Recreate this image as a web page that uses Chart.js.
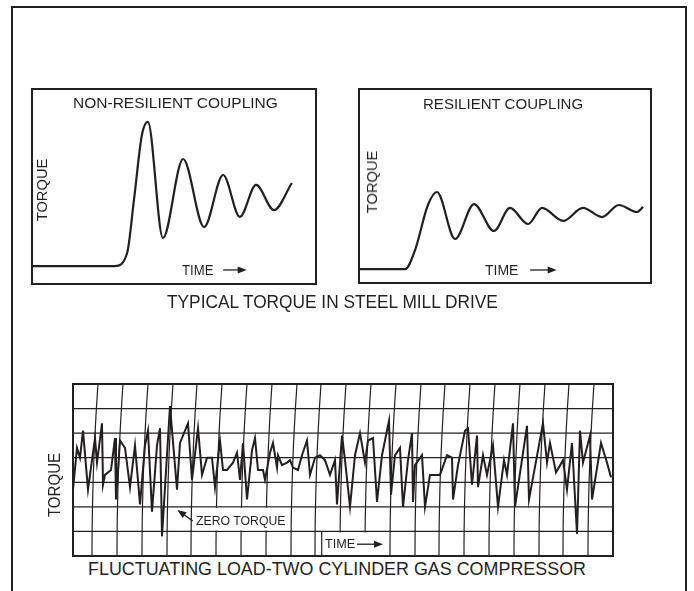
<!DOCTYPE html>
<html>
<head>
<meta charset="utf-8">
<title>Torque charts</title>
<script src="https://cdn.jsdelivr.net/npm/chart.js@4.4.1/dist/chart.umd.min.js"></script>
<style>
    html, body { margin: 0; padding: 0; background: #fff; }
    body {
        width: 694px; height: 591px; position: relative; overflow: hidden;
        font-family: "Liberation Sans", Arial, sans-serif; color: #231f20;
    }
    .frame { position: absolute; left: 11px; top: 6px; width: 672px; height: 640px; border: 2px solid #231f20; }
    .plot { position: absolute; }
    .lbl { position: absolute; white-space: nowrap; line-height: 1; transform: translateY(-50%); transform-origin: 0 50%; }
    .rot { transform: translate(-50%, -50%) rotate(-90deg); transform-origin: 50% 50%; }
</style>
</head>
<body>
<div class="frame"></div>

<div class="plot" style="left:31px;top:88px;width:286px;height:197px"><canvas id="nonResChart"></canvas></div>
<div class="plot" style="left:358px;top:88px;width:294px;height:196px"><canvas id="resChart"></canvas></div>
<div class="plot" style="left:72px;top:383px;width:542px;height:174px"><canvas id="compChart"></canvas></div>

<div class="lbl" data-w="205" style="left:73px;top:103px;font-size:14px">NON-RESILIENT COUPLING</div>
<div class="lbl" data-w="160" style="left:423px;top:104px;font-size:14px">RESILIENT COUPLING</div>
<div class="lbl rot" data-w="63" style="left:42px;top:190px;font-size:14px">TORQUE</div>
<div class="lbl rot" data-w="63" style="left:372px;top:182px;font-size:14px">TORQUE</div>
<div class="lbl" data-w="31" style="left:182px;top:270px;font-size:14px">TIME</div>
<div class="lbl" data-w="33" style="left:485px;top:270px;font-size:14px">TIME</div>
<div class="lbl" data-w="331" style="left:167px;top:303px;font-size:17.5px">TYPICAL TORQUE IN STEEL MILL DRIVE</div>
<div class="lbl rot" data-w="64" style="left:55px;top:485px;font-size:16px">TORQUE</div>
<div class="lbl" data-w="90" style="left:196px;top:521px;font-size:13.5px">ZERO TORQUE</div>
<div class="lbl" data-w="30" style="left:325px;top:544px;font-size:13.5px">TIME</div>
<div class="lbl" data-w="498" style="left:88px;top:570px;font-size:17.5px">FLUCTUATING LOAD-TWO CYLINDER GAS COMPRESSOR</div>

<script>
// data: time and torque in arbitrary units
const nonResTime = [0, 29.2, 33.5, 35.9, 38.7, 40.8, 46.1, 53.2, 60.6, 67.3, 73.2, 78.9, 85.2, 91.5];
const nonResTorque = [9.2, 9.2, 15.9, 43.1, 76.4, 83.1, 23.6, 64.1, 29.2, 55.9, 34.4, 50.8, 37.9, 51.8];

const resTime = [0, 15.8, 19.2, 23.6, 26.7, 32.9, 39.4, 46.2, 51.7, 57.9, 62.7, 69.9, 76.7, 83.2, 89.0, 95.2, 97.3];
const resTorque = [7.2, 7.2, 17.0, 40.2, 46.9, 22.7, 40.7, 26.8, 38.7, 30.4, 38.7, 32.0, 38.7, 34.0, 40.2, 36.6, 39.2];

const compTime = [
    0.0, 0.4, 0.7, 1.0, 1.5, 2.2, 2.4, 2.9, 3.0, 3.2, 3.8, 4.2, 4.3, 4.7, 5.2, 5.7, 6.2, 6.7, 7.2, 7.5,
    7.9, 8.4, 8.7, 8.9, 9.7, 10.4, 10.7, 11.5, 11.9, 12.5, 12.9, 13.4,
    13.9, 14.2, 14.7, 15.0, 15.4, 16.0, 16.4, 16.7, 17.0, 17.4, 17.9, 18.2, 18.5, 19.0, 19.2, 19.7, 20.0,
    20.4, 20.5, 20.9, 21.4, 21.7, 22.0, 22.5, 22.9, 23.4, 23.7, 24.2, 24.7, 25.2, 25.7, 26.2, 26.4,
    26.9, 27.2, 27.7, 28.2, 28.7, 29.2, 29.5, 30.0, 30.4, 30.9, 31.6, 31.8, 32.2, 32.7, 33.0, 33.5, 33.9,
    34.0, 34.2, 34.9, 35.2, 35.7, 36.7, 37.4, 37.9, 38.0, 38.5, 39.2, 39.5, 39.9,
    40.4, 40.5, 41.0, 41.4, 42.0, 42.5, 43.1, 43.4, 44.0, 44.2, 45.4, 45.6, 47.0, 47.4, 47.7, 48.3, 49.0,
    49.4, 49.9, 50.4, 50.7, 51.0, 51.7, 51.9, 52.8, 53.4, 53.8
];
const compTorque = [
    0.7, 2.4, 2.0, 3.1, 0.7, 2.8, 1.8, 3.4, 0.9, 1.3, 1.5, 2.8, 0.3, 2.7, 2.4, 0.8, 2.5, 0.1, 2.5, 3.1,
    -0.2, 2.5, 3.2, -1.2, 4.1, 0.7, 2.6, 3.4, 1.1, 3.2, 1.3, 2.0,
    2.0, 0.8, 2.7, 1.5, 1.5, 1.8, 2.2, 1.1, 2.6, 0.3, 2.3, 2.8, 1.5, 1.5, 1.1, 2.2, 2.6,
    1.6, 2.1, 1.7, 1.8, 1.9, 1.6, 1.5, 2.1, 2.7, 1.3, 2.0, 2.1, 1.9, 1.3, 1.9, 0.1,
    2.9, 1.9, 0.0, 2.1, 3.0, 1.8, 2.7, 2.8, 0.2, 2.1, 3.5, 0.5, 2.1, 2.4, 0.0, 1.9, 3.0,
    0.2, 1.7, 2.1, 0.0, 1.3, 1.3, 2.1, 2.0, 0.3, 1.7, 3.1, 3.2, 0.9,
    2.9, 0.8, 2.1, 1.3, 2.5, 0.0, 1.9, 1.3, 3.4, 0.0, 3.3, 0.3, 3.4, 1.8, 2.6, 1.4, 1.9,
    0.7, 2.6, -1.1, 3.1, 1.8, 2.9, 0.3, 2.6, 1.8, 1.2
];

// recorder chart paper: torque divisions and the time arcs (time at the top edge)
const torqueGrid = [-2, -1, 0, 1, 2, 3, 4, 5];
const chartLines = [2.5, 5.0, 7.5, 10.0, 12.4, 14.9, 17.4, 19.9, 22.4, 24.8, 27.3, 29.8, 32.3,
    34.8, 37.2, 39.7, 42.2, 44.7, 47.2, 49.6, 52.1];

const ink = "#231f20";

function points(xs, ys) {
    return xs.map(function (x, i) { return { x: x, y: ys[i] }; });
}

const framePlugin = {
    id: "frame",
    afterDraw(chart) {
        const a = chart.chartArea, ctx = chart.ctx;
        ctx.save();
        ctx.strokeStyle = ink;
        ctx.lineWidth = 2;
        ctx.strokeRect(a.left, a.top, a.right - a.left, a.bottom - a.top);
        ctx.restore();
    }
};

function drawArrow(chart, x0, y0, x1, y1) {
    const ctx = chart.ctx, sx = chart.scales.x, sy = chart.scales.y;
    const ax = sx.getPixelForValue(x0), ay = sy.getPixelForValue(y0);
    const bx = sx.getPixelForValue(x1), by = sy.getPixelForValue(y1);
    const ang = Math.atan2(by - ay, bx - ax), len = 9, half = 3.5;
    ctx.save();
    ctx.strokeStyle = ink;
    ctx.fillStyle = ink;
    ctx.lineWidth = 1.3;
    ctx.beginPath();
    ctx.moveTo(ax, ay);
    ctx.lineTo(bx - Math.cos(ang) * len * 0.8, by - Math.sin(ang) * len * 0.8);
    ctx.stroke();
    ctx.beginPath();
    ctx.moveTo(bx, by);
    ctx.lineTo(bx - Math.cos(ang) * len - Math.sin(ang) * half, by - Math.sin(ang) * len + Math.cos(ang) * half);
    ctx.lineTo(bx - Math.cos(ang) * len + Math.sin(ang) * half, by - Math.sin(ang) * len - Math.cos(ang) * half);
    ctx.closePath();
    ctx.fill();
    ctx.restore();
}

function arrowPlugin(list) {
    return {
        id: "arrows",
        afterDraw(chart) {
            list.forEach(function (a) { drawArrow(chart, a[0], a[1], a[2], a[3]); });
        }
    };
}

// curved time lines of the strip chart, the two label panels
const penSwing = 6;
function arcX(chart, t, py) {
    const a = chart.chartArea;
    const s = (py - a.top) / (a.bottom - a.top);
    return chart.scales.x.getPixelForValue(t) - penSwing * (1 - (1 - s) * (1 - s));
}

const recorderGrid = {
    id: "recorderGrid",
    beforeDatasetsDraw(chart) {
        const ctx = chart.ctx, a = chart.chartArea, sy = chart.scales.y, sx = chart.scales.x;
        ctx.save();
        ctx.strokeStyle = ink;
        ctx.lineWidth = 1.2;
        torqueGrid.forEach(function (v) {
            const py = sy.getPixelForValue(v);
            ctx.beginPath();
            ctx.moveTo(a.left, py);
            ctx.lineTo(a.right, py);
            ctx.stroke();
        });
        chartLines.forEach(function (t) {
            ctx.beginPath();
            for (let i = 0; i <= 24; i++) {
                const py = a.top + (a.bottom - a.top) * i / 24;
                if (i === 0) ctx.moveTo(arcX(chart, t, py), py);
                else ctx.lineTo(arcX(chart, t, py), py);
            }
            ctx.stroke();
        });

        ctx.fillStyle = "#fff";
        // ZERO TORQUE panel between arcs 4 and 8
        let top = sy.getPixelForValue(0), bot = sy.getPixelForValue(-1), mid = (top + bot) / 2;
        let left = arcX(chart, chartLines[4], mid) + 1.5, right = arcX(chart, chartLines[8], mid) - 1.5;
        ctx.fillRect(left, top + 1, right - left, bot - top - 2);
        // TIME panel, own left edge, up to arc 12
        top = sy.getPixelForValue(-1);
        bot = sy.getPixelForValue(-2);
        mid = (top + bot) / 2;
        left = sx.getPixelForValue(24.87);
        right = arcX(chart, chartLines[12], mid) - 1.5;
        ctx.fillRect(left, top + 1, right - left, bot - top - 1);
        ctx.beginPath();
        ctx.moveTo(left, top);
        ctx.lineTo(left, bot);
        ctx.stroke();
        ctx.restore();
    }
};

function baseOptions(xMax, yMin, yMax) {
    return {
        responsive: true,
        maintainAspectRatio: false,
        animation: false,
        events: [],
        layout: { padding: 1 },
        plugins: { legend: { display: false }, tooltip: { enabled: false } },
        scales: {
            x: { type: "linear", min: 0, max: xMax, display: false },
            y: { type: "linear", min: yMin, max: yMax, display: false },
        },
    };
}

new Chart(document.getElementById("nonResChart"), {
    type: "scatter",
    data: {
        datasets: [
            {
                label: "Non-resilient coupling",
                data: points(nonResTime, nonResTorque),
                showLine: true,
                borderColor: ink,
                borderWidth: 2.2,
                pointRadius: 0,
                cubicInterpolationMode: "monotone",
            },
        ],
    },
    options: baseOptions(100, 0, 100),
    plugins: [framePlugin, arrowPlugin([[67.3, 7.2, 75.6, 7.2]])],
});

new Chart(document.getElementById("resChart"), {
    type: "scatter",
    data: {
        datasets: [
            {
                label: "Resilient coupling",
                data: points(resTime, resTorque),
                showLine: true,
                borderColor: ink,
                borderWidth: 2.2,
                pointRadius: 0,
                cubicInterpolationMode: "monotone",
            },
        ],
    },
    options: baseOptions(100, 0, 100),
    plugins: [framePlugin, arrowPlugin([[58.6, 6.7, 67.7, 6.7]])],
});

new Chart(document.getElementById("compChart"), {
    type: "scatter",
    data: {
        datasets: [
            {
                label: "Two cylinder gas compressor",
                data: points(compTime, compTorque),
                showLine: true,
                borderColor: ink,
                borderWidth: 2,
                pointRadius: 0,
                tension: 0,
            },
        ],
    },
    options: baseOptions(54, -2, 5),
    plugins: [recorderGrid, framePlugin, arrowPlugin([[28.4, -1.52, 31.0, -1.52], [11.97, -0.57, 10.43, -0.13]])],
});

// widen each label (the figure uses a broad face) to the width it has in the figure
function fitLabels() {
    document.querySelectorAll(".lbl").forEach(function (el) {
        const k = parseFloat(el.dataset.w) / el.offsetWidth;
        const base = el.classList.contains("rot") ? "translate(-50%, -50%) rotate(-90deg)" : "translateY(-50%)";
        el.style.transform = base + " scaleX(" + k.toFixed(3) + ")";
    });
}
fitLabels();
if (document.fonts) document.fonts.ready.then(fitLabels);
</script>
</body>
</html>
